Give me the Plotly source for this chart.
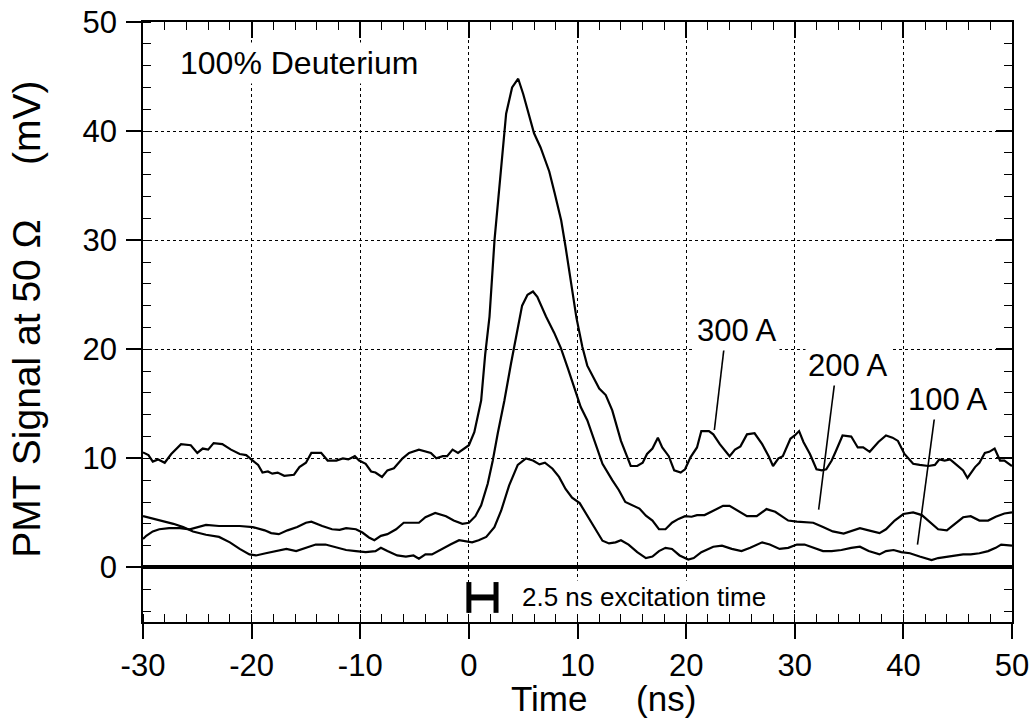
import plotly.graph_objects as go

# ---------------- data ----------------
t_300 = [-30, -29.5, -29.1, -28.6, -28.0, -27.4, -26.5, -25.6, -25.0, -24.5, -24.0, -23.5, -22.7, -21.9,
         -21.1, -20.5, -19.9, -19.4, -19.0, -18.5, -18.1, -17.6, -17.0, -16.1, -15.6, -15.0, -14.5, -13.6,
         -13.0, -12.2, -11.6, -11.1, -10.5, -10.1, -9.5, -9.0, -8.6, -8.0, -7.5, -6.9, -6.1, -5.5, -4.6,
         -4.0, -3.5, -3.0, -2.4, -2.0, -1.5, -1.0, -0.4, 0.0, 0.5, 1.13, 1.5, 1.9, 2.36, 2.97, 3.43, 3.98,
         4.54, 5.0, 5.5, 6.0, 6.6, 7.4, 7.9, 8.5, 8.9, 9.4, 9.9, 10.45, 10.9, 12.0, 12.6, 13.2, 14.0,
         14.9, 15.5, 16.0, 16.4, 16.9, 17.4, 17.8, 18.4, 18.9, 19.5, 19.9, 20.4, 21.0, 21.4, 22.1, 22.5,
         23.1, 24.0, 24.5, 25.0, 25.6, 26.3, 27.0, 27.6, 28.0, 28.5, 28.9, 29.6, 30.0, 30.4, 30.8, 31.4,
         32.0, 32.5, 32.9, 33.4, 33.8, 34.4, 35.2, 35.8, 36.3, 36.9, 37.7, 38.4, 39.0, 39.5, 40.1, 40.9,
         41.5, 42.3, 42.9, 43.3, 43.8, 44.3, 44.9, 45.5, 45.9, 46.6, 47.0, 47.5, 47.9, 48.4, 48.9, 49.3, 50.0]
v_300 = [10.55, 10.3, 9.7, 9.9, 9.6, 10.4, 11.3, 11.2, 10.5, 10.9, 10.8, 11.4, 11.3, 10.8,
         10.4, 10.3, 9.8, 9.4, 8.7, 8.8, 8.6, 8.7, 8.4, 8.5, 9.2, 9.6, 10.5, 10.5,
         9.8, 9.8, 10.0, 9.9, 10.2, 9.8, 9.5, 8.8, 8.7, 8.3, 8.9, 9.1, 10.0, 10.5, 10.8,
         10.6, 10.5, 10.0, 10.2, 10.2, 10.8, 10.5, 10.9, 11.2, 12.4, 15.3, 19.5, 23.0, 30.0, 37.0, 41.6, 44.0,
         44.8, 43.4, 41.7, 39.8, 38.5, 36.3, 34.3, 31.8, 29.4, 26.3, 22.9, 20.2, 18.5, 16.4, 15.8, 14.4, 11.6,
         9.3, 9.3, 9.6, 10.4, 10.9, 11.9, 11.0, 10.2, 8.9, 8.7, 9.0, 10.1, 11.0, 12.5, 12.5, 12.2,
         11.3, 10.2, 10.8, 11.1, 12.2, 12.3, 11.3, 10.2, 9.3, 10.0, 10.2, 11.8, 12.1, 12.5, 11.5, 10.4,
         9.0, 8.9, 9.0, 9.8, 10.7, 12.1, 12.0, 11.0, 11.0, 10.6, 11.5, 12.1, 11.9, 11.6, 10.4, 9.5,
         9.4, 9.3, 9.4, 9.9, 9.8, 9.9, 9.4, 8.9, 8.2, 9.2, 9.6, 10.5, 10.6, 10.9, 9.8, 9.8, 9.3]

t_200 = [-30, -29.7, -29.1, -28.5, -27.6, -26.6, -25.7, -24.9, -24.2, -23.0, -22.0, -21.1, -19.9, -18.8,
         -18.2, -17.5, -16.7, -15.8, -15.0, -14.5, -13.5, -12.6, -11.9, -11.3, -10.4, -9.8, -9.2, -8.7,
         -8.1, -7.5, -6.7, -6.0, -5.2, -4.6, -4.0, -3.1, -2.1, -1.4, -0.6, 0.0, 0.6, 1.13, 1.74, 2.2, 2.66,
         3.27, 3.88, 4.5, 4.9, 5.4, 5.9, 6.3, 7.1, 7.86, 8.47, 9.1, 9.7, 10.3, 10.9, 11.5, 12.3, 13.2,
         13.8, 14.4, 15.0, 15.7, 16.3, 16.9, 17.5, 18.1, 18.7, 19.3, 19.9, 20.5, 21.0, 21.7, 22.5, 23.4,
         24.0, 24.8, 25.6, 26.5, 27.4, 28.2, 28.8, 29.4, 30.2, 31.1, 31.7, 32.6, 33.5, 34.5, 35.2, 36.0,
         36.8, 37.8, 38.4, 39.2, 40.0, 40.9, 41.7, 42.4, 43.2, 44.0, 44.7, 45.5, 46.2, 47.0, 47.8, 48.5,
         49.3, 50.0]
v_200 = [2.6, 2.9, 3.3, 3.5, 3.6, 3.6, 3.5, 3.7, 3.9, 3.8, 3.8, 3.8, 3.7, 3.4,
         3.15, 3.05, 3.4, 3.7, 4.1, 4.2, 3.8, 3.5, 3.45, 3.6, 3.5, 3.2, 2.75, 2.5,
         2.9, 3.05, 3.5, 4.1, 4.1, 4.1, 4.6, 5.0, 4.7, 4.3, 4.0, 4.1, 4.7, 5.7, 7.7, 9.8, 12.3,
         15.3, 18.7, 22.1, 24.0, 25.0, 25.3, 24.8, 23.0, 21.5, 20.1, 18.3, 16.4, 14.7, 13.5, 11.7, 9.5, 8.0,
         7.1, 6.0, 5.7, 5.4, 4.75, 4.3, 3.5, 3.5, 4.1, 4.45, 4.7, 4.65, 4.8, 4.8, 5.2, 5.65,
         5.65, 5.2, 4.7, 4.7, 5.35, 5.1, 4.7, 4.3, 4.2, 4.1, 4.1, 3.7, 3.3, 3.1, 3.3, 3.6,
         3.4, 3.15, 3.5, 4.3, 4.9, 5.05, 4.8, 4.2, 3.5, 3.4, 4.0, 4.6, 4.7, 4.3, 4.3, 4.65,
         4.95, 5.05]

t_100 = [-30, -28.8, -27.2, -26.3, -25.4, -24.2, -23.0, -22.0, -21.1, -20.2, -19.6, -18.7, -17.8, -16.8,
         -15.9, -15.0, -14.1, -13.2, -12.2, -11.3, -10.4, -9.5, -8.6, -8.1, -7.5, -6.6, -5.8, -5.1, -4.6,
         -4.0, -3.4, -2.5, -1.7, -0.9, -0.2, 0.3, 0.9, 1.6, 2.35, 2.97, 3.7, 4.5, 5.26, 5.9, 6.5, 7.0,
         7.7, 8.3, 8.9, 9.5, 10.2, 10.8, 11.5, 12.3, 12.9, 13.5, 14.0, 14.7, 15.5, 16.3, 16.9, 17.5,
         18.1, 18.7, 19.4, 20.2, 20.7, 21.4, 22.5, 23.3, 24.2, 25.1, 25.9, 27.0, 27.7, 28.6, 29.4, 30.2,
         30.9, 31.7, 32.6, 33.4, 34.3, 35.2, 36.0, 36.8, 37.8, 38.4, 39.1, 39.8, 40.6, 41.5, 42.6, 43.2,
         44.0, 44.7, 45.5, 46.2, 47.0, 47.8, 48.5, 49.0, 50.0]
v_100 = [4.7, 4.4, 4.0, 3.7, 3.3, 3.0, 2.8, 2.3, 1.7, 1.2, 1.1, 1.3, 1.5, 1.7,
         1.5, 1.8, 2.1, 2.1, 1.8, 1.6, 1.5, 1.4, 1.5, 1.8, 1.5, 1.1, 1.0, 1.1, 0.8,
         1.2, 1.2, 1.7, 2.1, 2.5, 2.4, 2.3, 2.5, 2.8, 3.7, 5.2, 7.5, 9.4, 10.0, 9.8, 9.45, 9.6,
         9.05, 8.3, 7.2, 6.4, 5.9, 4.9, 3.7, 2.45, 2.2, 2.3, 2.5, 2.1, 1.4, 0.86, 1.0, 1.5,
         1.8, 1.7, 1.1, 0.73, 0.86, 1.4, 1.9, 2.0, 1.7, 1.5, 1.8, 2.3, 2.1, 1.7, 1.8, 2.1,
         2.1, 1.8, 1.5, 1.5, 1.6, 1.8, 1.9, 1.5, 1.2, 1.5, 1.6, 1.4, 1.3, 1.0, 0.67, 0.86,
         1.0, 1.1, 1.2, 1.2, 1.3, 1.5, 1.8, 2.1, 2.0]

# curve labels with their leader lines (label position, leader start, leader end)
labels = ["300 A", "200 A", "100 A"]
label_x = [24.7, 34.9, 44.1]
label_y = [21.7, 18.5, 15.4]
leader_x0 = [23.5, 33.7, 42.9]
leader_y0 = [20.2, 17.2, 14.0]
leader_x1 = [22.6, 32.2, 41.3]
leader_y1 = [12.6, 5.3, 2.1]

# excitation time marker
excitation_start = 0.0
excitation_length = 2.5
excitation_level = -2.75

x_range = [-30, 50]
y_range = [-5, 50]
x_ticks = [-30, -20, -10, 0, 10, 20, 30, 40, 50]
y_ticks = [0, 10, 20, 30, 40, 50]

FONT = "Liberation Sans, Arial, Helvetica, sans-serif"

fig = go.Figure()

for t, v, name in [(t_300, v_300, "300 A"), (t_200, v_200, "200 A"), (t_100, v_100, "100 A")]:
    fig.add_trace(go.Scatter(x=t, y=v, mode="lines", name=name,
                             line=dict(color="black", width=2.2), showlegend=False,
                             hoverinfo="skip"))

for i in range(len(labels)):
    fig.add_trace(go.Scatter(x=[leader_x0[i], leader_x1[i]], y=[leader_y0[i], leader_y1[i]],
                             mode="lines", line=dict(color="black", width=1.6),
                             showlegend=False, hoverinfo="skip"))
    fig.add_annotation(x=label_x[i], y=label_y[i], text=labels[i], showarrow=False,
                       font=dict(family=FONT, size=31, color="black"),
                       bgcolor="white", borderpad=2, xanchor="center", yanchor="middle")

exc_x = [excitation_start, excitation_start + excitation_length]
exc_y = [excitation_level, excitation_level]
fig.add_trace(go.Scatter(x=exc_x, y=exc_y, mode="lines+markers",
                         line=dict(color="black", width=6),
                         marker=dict(symbol="line-ns", size=22,
                                     line=dict(color="black", width=5)),
                         showlegend=False, hoverinfo="skip"))
fig.add_annotation(x=exc_x[1] + 2.2, y=excitation_level, text="2.5 ns excitation time",
                   showarrow=False, xanchor="left", yanchor="middle",
                   font=dict(family=FONT, size=26, color="black"),
                   bgcolor="white", borderpad=1)

fig.add_annotation(x=-26.9, y=46.2, text="100% Deuterium", showarrow=False,
                   xanchor="left", yanchor="middle",
                   font=dict(family=FONT, size=32, color="black"),
                   bgcolor="white", borderpad=2)

# dummy trace to anchor the mirrored tick axes
fig.add_trace(go.Scatter(x=[x_range[0]], y=[y_range[0]], xaxis="x2", yaxis="y2",
                         mode="markers", marker=dict(opacity=0), showlegend=False,
                         hoverinfo="skip"))

# axis titles
fig.add_annotation(xref="paper", yref="paper", x=0.53, y=-0.161, yanchor="bottom",
                   text="Time\u00a0\u00a0\u00a0\u00a0\u00a0(ns)", showarrow=False, borderpad=0,
                   font=dict(family=FONT, size=35, color="black"))
fig.add_annotation(xref="paper", yref="paper", x=-0.135, y=0.505, xanchor="center",
                   textangle=-90,
                   text="PMT Signal at 50 \u03a9\u00a0\u00a0\u00a0\u00a0\u00a0(mV)", showarrow=False,
                   font=dict(family=FONT, size=39, color="black"))

axis_common = dict(showline=True, linecolor="black", linewidth=1.5, mirror=True,
                   tickcolor="black", tickwidth=1.5, automargin=False,
                   tickfont=dict(family=FONT, size=31, color="black"),
                   showgrid=True, gridcolor="black", gridwidth=1, griddash="dot")

fig.update_layout(
    width=1033, height=719,
    margin=dict(l=143, r=21, t=22, b=97, pad=0),
    paper_bgcolor="white", plot_bgcolor="white",
    showlegend=False,
    xaxis=dict(range=x_range, tickmode="array", tickvals=x_ticks,
               ticktext=[str(v) for v in x_ticks],
               ticks="outside", ticklen=15, zeroline=False, ticklabelstandoff=0,
               minor=dict(ticks="inside", ticklen=8, dtick=2, tick0=0,
                          tickcolor="black", tickwidth=1.2, showgrid=False),
               **axis_common),
    yaxis=dict(range=y_range, tickmode="array", tickvals=y_ticks,
               ticktext=[str(v) for v in y_ticks],
               ticks="outside", ticklen=15, ticklabelstandoff=3,
               zeroline=True, zerolinecolor="black", zerolinewidth=4,
               minor=dict(ticks="inside", ticklen=8, dtick=2, tick0=0,
                          tickcolor="black", tickwidth=1.2, showgrid=False),
               **axis_common),
    xaxis2=dict(range=x_range, overlaying="x", side="top", showticklabels=False,
                tickmode="array", tickvals=x_ticks, ticks="inside", ticklen=16,
                tickcolor="black", tickwidth=1.5, automargin=False,
                minor=dict(ticks="inside", ticklen=8, dtick=2, tick0=0,
                           tickcolor="black", tickwidth=1.2, showgrid=False),
                showgrid=False, zeroline=False, showline=False),
    yaxis2=dict(range=y_range, overlaying="y", side="right", showticklabels=False,
                tickmode="array", tickvals=y_ticks, ticks="inside", ticklen=16,
                tickcolor="black", tickwidth=1.5, automargin=False,
                minor=dict(ticks="inside", ticklen=8, dtick=2, tick0=0,
                           tickcolor="black", tickwidth=1.2, showgrid=False),
                showgrid=False, zeroline=False, showline=False),
)

fig.write_html("out.html", config={"displayModeBar": False},
               post_script="document.body.style.margin='0';document.body.style.overflow='hidden';")
